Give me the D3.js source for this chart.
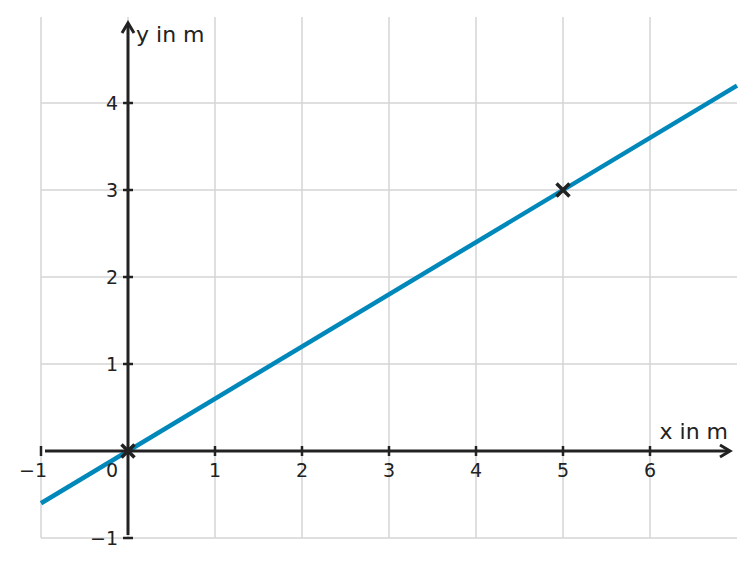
<!DOCTYPE html>
<html>
<head>
<meta charset="utf-8">
<script src="https://cdn.jsdelivr.net/npm/d3@7"></script>
<style>
  body { margin: 0; background: #fff; }
  svg { display: block; font-family: "DejaVu Sans", sans-serif; }
</style>
</head>
<body>
<svg id="chart" width="755" height="567"></svg>
<script>
var xTicks = [-1, 0, 1, 2, 3, 4, 5, 6];
var yTicks = [-1, 1, 2, 3, 4];
var xGrid = [-1, 0, 1, 2, 3, 4, 5, 6];
var yGrid = [-1, 1, 2, 3, 4];
var lineX = [-1, 7];
var lineY = [-0.6, 4.2];
var pointsX = [0, 5];
var pointsY = [0, 3];

var margin = { left: 41, right: 18, top: 16, bottom: 29 };
var width = 755, height = 567;

var x = d3.scaleLinear().domain([-1, 7]).range([margin.left, width - margin.right]);
var y = d3.scaleLinear().domain([-1, 5]).range([height - margin.bottom, margin.top]);

var svg = d3.select('#chart');
var fmt = function (d) { return d < 0 ? '\u2212' + Math.abs(d) : String(d); };

// grid
svg.append('g').selectAll('line').data(xGrid).enter().append('line')
  .attr('x1', function (d) { return x(d); }).attr('x2', function (d) { return x(d); })
  .attr('y1', y(5) + 1).attr('y2', y(-1))
  .attr('stroke', '#d5d5d5').attr('stroke-width', 1.5);
svg.append('g').selectAll('line').data(yGrid).enter().append('line')
  .attr('y1', function (d) { return y(d); }).attr('y2', function (d) { return y(d); })
  .attr('x1', x(-1)).attr('x2', x(7))
  .attr('stroke', '#d5d5d5').attr('stroke-width', 1.5);

// data line
svg.append('path')
  .datum(lineX.map(function (d, i) { return [d, lineY[i]]; }))
  .attr('fill', 'none').attr('stroke', '#0088bb').attr('stroke-width', 4.5)
  .attr('d', d3.line().x(function (d) { return x(d[0]); }).y(function (d) { return y(d[1]); }));

var axisColor = '#222';

// x axis
svg.append('line')
  .attr('x1', x(-1) + 4).attr('x2', x(7) - 8)
  .attr('y1', y(0)).attr('y2', y(0))
  .attr('stroke', axisColor).attr('stroke-width', 3);
svg.append('path')
  .attr('d', 'M' + (x(7) - 17) + ',' + (y(0) - 6) + 'L' + (x(7) - 7) + ',' + y(0) + 'L' + (x(7) - 17) + ',' + (y(0) + 6))
  .attr('fill', 'none').attr('stroke', axisColor).attr('stroke-width', 3);

// y axis
svg.append('line')
  .attr('x1', x(0)).attr('x2', x(0))
  .attr('y1', y(-1) - 3).attr('y2', y(5) + 8)
  .attr('stroke', axisColor).attr('stroke-width', 3);
svg.append('path')
  .attr('d', 'M' + (x(0) - 6) + ',' + (y(5) + 17) + 'L' + x(0) + ',' + (y(5) + 7) + 'L' + (x(0) + 6) + ',' + (y(5) + 17))
  .attr('fill', 'none').attr('stroke', axisColor).attr('stroke-width', 3);

// x ticks
svg.append('g').selectAll('line').data(xTicks.filter(function (d) { return d !== 0; })).enter().append('line')
  .attr('x1', function (d) { return x(d); }).attr('x2', function (d) { return x(d); })
  .attr('y1', y(0) - 5).attr('y2', y(0) + 5)
  .attr('stroke', axisColor).attr('stroke-width', 2.5);
svg.append('g').selectAll('text').data(xTicks).enter().append('text')
  .attr('x', function (d) { return d === 0 ? x(d) - 16 : x(d) - (d < 0 ? 8 : 0); })
  .attr('y', y(0) + 26)
  .attr('text-anchor', 'middle')
  .attr('font-size', 19).attr('fill', axisColor)
  .text(fmt);

// y ticks
svg.append('g').selectAll('line').data(yTicks).enter().append('line')
  .attr('y1', function (d) { return y(d); }).attr('y2', function (d) { return y(d); })
  .attr('x1', x(0) - 5).attr('x2', x(0) + 5)
  .attr('stroke', axisColor).attr('stroke-width', 2.5);
svg.append('g').selectAll('text').data(yTicks).enter().append('text')
  .attr('x', x(0) - 10)
  .attr('y', function (d) { return y(d) + 7; })
  .attr('text-anchor', 'end')
  .attr('font-size', 19).attr('fill', axisColor)
  .text(fmt);

// axis titles
svg.append('text').attr('x', x(7) - 9).attr('y', y(0) - 12)
  .attr('text-anchor', 'end').attr('font-size', 22).attr('fill', axisColor)
  .text('x in m');
svg.append('text').attr('x', x(0) + 8).attr('y', y(5) + 26)
  .attr('font-size', 22).attr('fill', axisColor)
  .text('y in m');

// crosses
svg.append('g').selectAll('path').data(pointsX).enter().append('path')
  .attr('d', function (d, i) {
    var cx = x(d), cy = y(pointsY[i]), r = 6.5;
    return 'M' + (cx - r) + ',' + (cy - r) + 'L' + (cx + r) + ',' + (cy + r) +
      'M' + (cx - r) + ',' + (cy + r) + 'L' + (cx + r) + ',' + (cy - r);
  })
  .attr('stroke', axisColor).attr('stroke-width', 3.5).attr('fill', 'none');
</script>
</body>
</html>
